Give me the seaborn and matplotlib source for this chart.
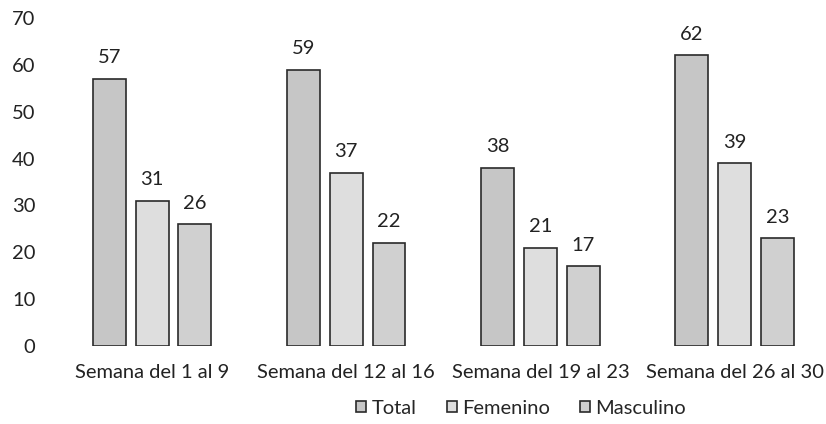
import pandas as pd
import matplotlib
matplotlib.use("Agg")
import matplotlib.pyplot as plt
import seaborn as sns

semanas = ["Semana del 1 al 9", "Semana del 12 al 16",
           "Semana del 19 al 23", "Semana del 26 al 30"]
series = ["Total", "Femenino", "Masculino"]
total = [57, 59, 38, 62]
femenino = [31, 37, 21, 39]
masculino = [26, 22, 17, 23]

df = pd.DataFrame({
    "semana": semanas * 3,
    "serie": ["Total"] * 4 + ["Femenino"] * 4 + ["Masculino"] * 4,
    "valor": total + femenino + masculino,
})

sns.set_theme(style="white")
plt.rcParams["font.family"] = ["Lato", "DejaVu Sans"]

colores = {"Total": "#c6c6c6", "Femenino": "#dedede", "Masculino": "#d0d0d0"}

fig = plt.figure(figsize=(8.26, 4.24), dpi=100)
ax = fig.add_axes([55 / 826, (424 - 346) / 424, (820 - 55) / 826, (346 - 18) / 424])

sns.barplot(data=df, x="semana", y="valor", hue="serie", order=semanas,
            hue_order=series, palette=colores, width=0.66, gap=0.23,
            edgecolor="#2a2a2a", linewidth=1.2, ax=ax)

for cont in ax.containers:
    ax.bar_label(cont, padding=9, fontsize=14.5, color="#222222")

ax.set_ylim(0, 70)
ax.set_yticks(range(0, 71, 10))
ax.set_xlim(-0.5, 3.44)
ax.set_xlabel("")
ax.set_ylabel("")
ax.tick_params(axis="both", labelsize=14.5, colors="#222222", length=0)
ax.tick_params(axis="x", pad=13)
ax.tick_params(axis="y", pad=14)
for s in ax.spines.values():
    s.set_visible(False)

ax.legend(loc="center", bbox_to_anchor=(0.609, -0.19), ncol=3,
          frameon=False, fontsize=14.5, handlelength=0.5, handleheight=0.5,
          handletextpad=0.25, columnspacing=1.5)

fig.savefig("out.png", dpi=100)
